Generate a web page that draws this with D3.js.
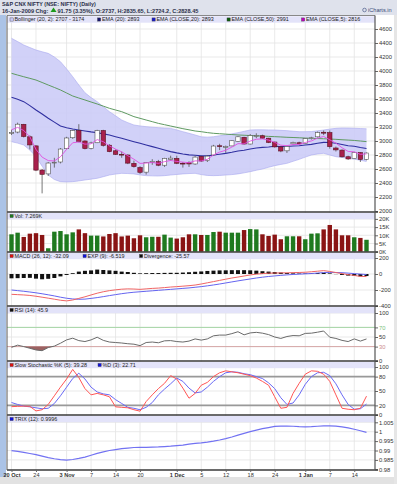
<!DOCTYPE html>
<html><head><meta charset="utf-8">
<script src="https://cdn.jsdelivr.net/npm/d3@7"></script>
<style>body{margin:0;background:#fff}svg{display:block;font-family:"Liberation Sans",Arial,sans-serif}</style>
</head><body><svg id="c" width="397" height="484"></svg>
<script>
// ---------------- DATA ----------------
const dates = ["2008-10-20","2008-10-21","2008-10-22","2008-10-23","2008-10-24","2008-10-27","2008-10-28","2008-10-29","2008-10-31",
"2008-11-03","2008-11-04","2008-11-05","2008-11-06","2008-11-07","2008-11-10","2008-11-11","2008-11-12","2008-11-14","2008-11-17","2008-11-18","2008-11-19","2008-11-20","2008-11-21","2008-11-24","2008-11-25","2008-11-26","2008-11-28",
"2008-12-01","2008-12-02","2008-12-03","2008-12-04","2008-12-05","2008-12-08","2008-12-10","2008-12-11","2008-12-12","2008-12-15","2008-12-16","2008-12-17","2008-12-18","2008-12-19","2008-12-22","2008-12-23","2008-12-24","2008-12-26","2008-12-29","2008-12-30","2008-12-31",
"2009-01-01","2009-01-02","2009-01-05","2009-01-06","2009-01-07","2009-01-09","2009-01-12","2009-01-13","2009-01-14","2009-01-15","2009-01-16"];
const open = [3110,3128,3238,3060,2930,2585,2530,2690,2700,
2890,3047,3150,3000,2895,2975,3150,2940,2860,2810,2800,2680,2620,2555,2695,2705,2654,2735,
2752,2682,2690,2672,2780,2720,2800,2932,2915,2930,2995,3053,2957,3072,3075,3040,2985,2916,2860,2960,2975,
2962,3040,3060,3125,3120,2900,2870,2775,2750,2835,2737];
const high = [3160,3262,3245,3080,2940,2600,2700,2760,2900,
3060,3160,3240,3010,2990,3160,3160,2955,2880,2850,2810,2720,2640,2700,2740,2730,2760,2790,
2790,2700,2710,2790,2790,2800,2945,2960,2935,3010,3070,3060,3100,3110,3090,3045,2990,2930,2935,2990,2990,
3040,3060,3135,3150,3150,2920,2880,2790,2845,2840,2835.65];
const low = [3085,3110,3050,2880,2570,2252,2500,2620,2680,
2880,3030,2980,2880,2880,2970,2920,2840,2800,2760,2670,2620,2530,2520,2660,2640,2630,2720,
2670,2620,2630,2660,2700,2700,2790,2870,2830,2925,2985,2950,2950,3040,3030,2970,2905,2840,2830,2950,2950,
2955,3020,3050,3085,2890,2850,2765,2730,2745,2700,2724.2];
const close = [3122,3240,3065,2944,2584,2524,2685,2697,2885,
3043,3148,2994,2892,2973,3148,2938,2848,2810,2799,2684,2635,2553,2693,2708,2654,2752,2755,
2682,2677,2672,2770,2714,2784,2928,2920,2921,3004,3060,2957,3078,3077,3040,2980,2916,2857,2922,2979,2959,
3033,3046,3121,3112,2920,2873,2774,2744,2835,2737,2828.45];
const volumeK = [10.6,11.6,9.0,11.0,11.3,10.2,2.1,12.2,12.6,
10.6,11.8,13.6,11.3,9.8,9.8,9.3,10.8,11.3,9.3,9.8,8.2,10.0,8.8,9.1,9.1,10.4,8.6,
8.0,8.8,10.6,10.6,10.2,10.2,12.0,12.2,11.6,11.6,11.6,13.2,13.8,13.6,10.6,9.6,10.4,7.6,9.4,9.4,9.4,
7.6,11.0,11.2,13.6,16.3,13.6,10.0,10.0,8.8,8.4,7.269];
const bbUpper = [4467,4420,4371,4335,4300,4275,4252,4200,4133,
4030,3919,3800,3690,3620,3562,3490,3419,3360,3300,3262,3229,3215,3205,3197,3190,3185,3180,
3158,3133,3110,3086,3060,3055,3061,3075,3086,3102,3119,3138,3157,3160,3160,3158,3157,3152,3148,3140,3133,
3133,3135,3145,3157,3170,3181,3186,3185,3182,3178,3174];
const bbLower = [2990,2970,2943,2870,2776,2640,2514,2450,2419,
2415,2419,2430,2443,2455,2467,2490,2514,2528,2538,2535,2530,2515,2505,2502,2500,2505,2514,
2522,2530,2535,2538,2520,2508,2505,2508,2514,2520,2530,2545,2562,2582,2600,2625,2648,2665,2681,2710,2738,
2770,2800,2815,2824,2800,2776,2765,2752,2740,2725,2707];
const ema20 = [3624,3595,3562,3505,3443,3385,3324,3270,3214,
3190,3171,3157,3143,3130,3119,3102,3086,3062,3038,3014,2990,2967,2943,2920,2896,2872,2848,
2830,2815,2802,2796,2787,2787,2800,2811,2823,2839,2858,2867,2886,2900,2909,2914,2925,2922,2922,2928,2932,
2942,2952,2968,2980,2978,2968,2950,2932,2925,2908,2893];
const ema50 = [3967,3942,3918,3895,3871,3836,3800,3765,3729,
3686,3643,3614,3586,3557,3529,3498,3467,3443,3419,3384,3348,3324,3300,3276,3252,3233,3214,
3195,3176,3160,3143,3133,3120,3110,3104,3098,3092,3086,3082,3078,3074,3071,3066,3062,3058,3053,3050,3046,
3042,3038,3035,3032,3028,3024,3018,3013,3008,3000,2991];
const ema5 = [3160,3195,3150,3060,2880,2770,2720,2715,2775,
2880,2975,2985,2955,2960,3020,2990,2930,2885,2845,2790,2740,2680,2685,2693,2680,2705,2722,
2708,2698,2690,2716,2715,2738,2801,2841,2868,2913,2962,2960,2999,3025,3030,3013,2981,2940,2934,2949,2952,
2979,3001,3041,3065,3017,2969,2904,2851,2845,2809,2816];
const macd = [-254,-258,-262,-268,-278,-290,-302,-315,-328,
-336,-325,-305,-285,-262,-240,-222,-208,-198,-190,-186,-188,-192,-186,-180,-176,-170,-163,
-158,-152,-146,-138,-125,-110,-95,-80,-65,-50,-38,-25,-12,-2,5,10,12,14,15,17,19,
22,28,35,42,32,18,5,-8,-18,-30,-32.09];
const macdSignal = [-200,-208,-216,-225,-235,-247,-260,-274,-290,
-303,-312,-316,-314,-305,-295,-283,-270,-258,-246,-236,-228,-222,-216,-210,-204,-198,-192,
-186,-180,-174,-166,-158,-148,-137,-125,-112,-99,-86,-74,-62,-50,-40,-31,-24,-17,-11,-6,-2,
2,6,12,18,20,19,16,11,5,-1,-6.519];
const macdDiv = [-54,-52,-50,-48,-58,-66,-60,-50,-30,
-12,10,30,40,45,55,50,45,40,30,25,15,8,10,12,12,14,15,
15,18,22,28,32,38,42,45,46,48,48,48,46,42,35,30,25,18,12,8,6,
6,8,12,15,8,-2,-12,-20,-25,-30,-25.57];
const rsi = [28.5,33,30,26.5,23,21.5,28,31,37,
44,47.5,42.5,40.5,44,49.5,43,39.5,38.5,37.5,36,35,32,38.5,39.5,38,42,42.5,
40.5,39.5,41.5,46,43.5,46,52.5,54,54,57,61,54.5,58.5,59.7,58,55,50,47,51,53,52.5,
57.5,58,60,62.5,49.5,47,43,40.5,46,41.5,45.9];
const stochK = [17.4,18,18.5,18,8.5,11,22,40,58,
75,95,78,55,42,45,42,38,17,16,15,11,8,28,42,55,66,82,
75,56,35,45,62,68,80,88,92,90,88,85,82,77,70,62,38,14,16,45,66,
85,92,91,85,70,42,14,12,11,14,39.28];
const stochD = [26,22,18.5,17,15,13,14,24,40,
58,76,87,75,58,48,44,42,32,24,16,14,11,16,26,42,54,65,
77,70,56,46,48,58,70,80,88,90,89,86,84,80,76,67,55,36,22,25,42,
64,80,88,89,82,65,42,22,12,13,22.71];
const trix = [0.9899,0.9895,0.9890,0.9884,0.9878,0.9870,0.9862,0.9856,0.9851,
0.9849,0.9852,0.9858,0.9865,0.9875,0.9885,0.9893,0.9900,0.9905,0.9910,0.9913,0.9916,0.9917,0.9917,0.9918,0.9919,0.9921,0.9923,
0.9926,0.9929,0.9934,0.9938,0.9941,0.9945,0.9950,0.9956,0.9963,0.9972,0.9982,0.9991,1.0000,1.0008,1.0016,1.0022,1.0028,1.0030,1.0030,1.0029,1.0027,
1.0026,1.0027,1.0029,1.0031,1.0031,1.0030,1.0026,1.0020,1.0013,1.0005,0.9996];

const xTickDates = ["2008-10-20","2008-10-24","2008-11-03","2008-11-07","2008-11-14","2008-11-20","2008-12-01","2008-12-05","2008-12-12","2008-12-18","2008-12-24","2009-01-01","2009-01-07","2009-01-14"];
const xTickLabels = ["20 Oct","24","3 Nov","7","14","20","1 Dec","5","12","18","24","1 Jan","7","14"];
const xTickBold = ["20 Oct","3 Nov","1 Dec","1 Jan"];
const priceTicks = [2000,2200,2400,2600,2800,3000,3200,3400,3600,3800,4000,4200,4400,4600];
const volTicks = [0,5,10,15,20];
const macdTicks = [-400,-200,0,200];
const rsiTicks = [0,30,50,70,100];
const stochTicks = [0,20,50,80,100];
const trixTicks = [0.98,0.985,0.99,0.995,1,1.005];

const titleLine1 = "S&P CNX NIFTY (NSE: NIFTY) (Daily)";
const titleDate = "16-Jan-2009 Chg:";
const titleRest = "91.75 (3.35%), O:2737, H:2835.65, L:2724.2, C:2828.45";
const brand = "iCharts.in";

// ---------------- DRAW ----------------
const W = 397, H = 484, L = 7, R = 375;
const svg = d3.select("#c");
svg.append("rect").attr("width", W).attr("height", H).attr("fill", "#fff");
svg.append("rect").attr("x", 0).attr("y", 0).attr("width", W).attr("height", 15).attr("fill", "#dfe2ec");
svg.append("rect").attr("x", 0).attr("y", 15).attr("width", 6).attr("height", 462).attr("fill", "#abc3e6");
svg.append("rect").attr("x", 0).attr("y", 477).attr("width", W).attr("height", 7).attr("fill", "#e2e2e2");
svg.append("rect").attr("x", 394).attr("y", 15).attr("width", 3).attr("height", 469).attr("fill", "#e6e6e6");

// header
svg.append("text").attr("x", 2).attr("y", 6).attr("font-size", 5.4).attr("font-weight", "bold").attr("fill", "#2a2f4a").text(titleLine1);
const t2 = svg.append("text").attr("x", 2).attr("y", 12.5).attr("font-size", 5.6).attr("font-weight", "bold").attr("fill", "#2a2f4a");
t2.append("tspan").text(titleDate);
svg.append("path").attr("d", "M50.5,12 L53.5,7.5 L56.5,12 Z").attr("fill", "#1c9a1c");
svg.append("text").attr("x", 57.5).attr("y", 12.5).attr("font-size", 5.6).attr("font-weight", "bold").attr("fill", "#2a2f4a").text(titleRest);
svg.append("circle").attr("cx", 364.5).attr("cy", 10).attr("r", 1.8).attr("fill", "none").attr("stroke", "#4a5a8a").attr("stroke-width", 0.7);
svg.append("text").attr("x", 368).attr("y", 12).attr("font-size", 5.6).attr("fill", "#3a4a7a").text(brand);

const x = d3.scalePoint().domain(dates).range([11.5, 366.5]);
const bw = 4.4;

const panels = {
  main:  {top: 15.5, bottom: 212, y: d3.scaleLinear().domain([2000, 4800]).range([211, 15]), ticks: priceTicks, fmt: d => d},
  vol:   {top: 212, bottom: 252, y: d3.scaleLinear().domain([0, 20]).range([251.7, 218.9]), ticks: volTicks, fmt: d => d + "K"},
  macd:  {top: 252, bottom: 306, y: d3.scaleLinear().domain([-400, 200]).range([306, 258]), ticks: macdTicks, fmt: d => d},
  rsi:   {top: 306, bottom: 361, y: d3.scaleLinear().domain([0, 100]).range([361, 313]), ticks: rsiTicks, fmt: d => d},
  stoch: {top: 361, bottom: 415, y: d3.scaleLinear().domain([0, 100]).range([415, 367]), ticks: stochTicks, fmt: d => d},
  trix:  {top: 415, bottom: 470, y: d3.scaleLinear().domain([0.98, 1.005]).range([469.3, 422.3]), ticks: trixTicks, fmt: d => String(+d.toFixed(3))}
};

const gridG = svg.append("g");
// vertical grid
xTickDates.forEach(d => {
  gridG.append("line").attr("x1", x(d)).attr("x2", x(d)).attr("y1", 15.5).attr("y2", 470)
    .attr("stroke", "#e3e3e3").attr("stroke-width", 0.8);
});
// horizontal grid + axes
Object.entries(panels).forEach(([k, p]) => {
  p.ticks.forEach(t => {
    const yy = p.y(t);
    if (yy > p.top + 1 && yy < p.bottom - 1)
      gridG.append("line").attr("x1", L).attr("x2", R).attr("y1", yy).attr("y2", yy).attr("stroke", "#e3e3e3").attr("stroke-width", 0.8);
  });
  const ax = svg.append("g").attr("transform", `translate(${R},0)`)
    .call(d3.axisRight(p.y).tickValues(p.ticks).tickSize(3).tickPadding(1).tickFormat(p.fmt));
  ax.select(".domain").remove();
  ax.selectAll("text").attr("font-size", 5.8).attr("fill", "#333").attr("font-family", "Liberation Sans, Arial, sans-serif");
  ax.selectAll("line").attr("stroke", "#666");
  p.axis = ax;
});
// colour RSI labels
panels.rsi.axis.selectAll(".tick").each(function(d) {
  if (d === 70) d3.select(this).select("text").attr("fill", "#7cbf7c");
  if (d === 30) d3.select(this).select("text").attr("fill", "#cc8c8c");
});

// ---- main panel ----
const ym = panels.main.y;
const idx = d3.range(dates.length);
svg.append("path").datum(idx)
  .attr("d", d3.area().x(i => x(dates[i])).y0(i => ym(bbLower[i])).y1(i => ym(bbUpper[i])))
  .attr("fill", "#c9c9f7").attr("fill-opacity", 0.85);
[bbUpper, bbLower].forEach(s => svg.append("path").datum(idx)
  .attr("d", d3.line().x(i => x(dates[i])).y(i => ym(s[i])))
  .attr("fill", "none").attr("stroke", "#a8a8ee").attr("stroke-width", 0.6));
const lineOf = (s, y) => d3.line().x(i => x(dates[i])).y(i => y(s[i]));
svg.append("path").datum(idx).attr("d", lineOf(ema50, ym)).attr("fill", "none").attr("stroke", "#5f9a62").attr("stroke-width", 1);
svg.append("path").datum(idx).attr("d", lineOf(ema20, ym)).attr("fill", "none").attr("stroke", "#2f2fa0").attr("stroke-width", 1.1);
// candles
const cg = svg.append("g");
idx.forEach(i => {
  const cx = x(dates[i]);
  const up = close[i] >= open[i];
  cg.append("line").attr("x1", cx).attr("x2", cx).attr("y1", ym(high[i])).attr("y2", ym(low[i]))
    .attr("stroke", "#555").attr("stroke-width", 0.8);
  const y0 = ym(Math.max(open[i], close[i])), y1 = ym(Math.min(open[i], close[i]));
  cg.append("rect").attr("x", cx - bw / 2).attr("y", y0).attr("width", bw).attr("height", Math.max(0.8, y1 - y0))
    .attr("fill", up ? "#fff" : "#a8204c").attr("stroke", up ? "#555" : "#5a1020").attr("stroke-width", 0.6);
});
svg.append("path").datum(idx).attr("d", lineOf(ema5, ym)).attr("fill", "none").attr("stroke", "#e050e0").attr("stroke-width", 0.9);

// ---- volume ----
const yv = panels.vol.y;
idx.forEach(i => {
  const up = close[i] >= open[i];
  svg.append("rect").attr("x", x(dates[i]) - 2.2).attr("width", 4.4)
    .attr("y", yv(volumeK[i])).attr("height", yv(0) - yv(volumeK[i]))
    .attr("fill", up ? "#1f7a1f" : "#8a1414");
});

// ---- MACD ----
const yM = panels.macd.y;
idx.forEach(i => {
  const v = macdDiv[i];
  svg.append("rect").attr("x", x(dates[i]) - 2).attr("width", 4)
    .attr("y", Math.min(yM(v), yM(0))).attr("height", Math.abs(yM(v) - yM(0)))
    .attr("fill", "#111");
});
svg.append("path").datum(idx).attr("d", lineOf(macdSignal, yM)).attr("fill", "none").attr("stroke", "#6464f0").attr("stroke-width", 1);
svg.append("path").datum(idx).attr("d", lineOf(macd, yM)).attr("fill", "none").attr("stroke", "#f06464").attr("stroke-width", 1);

// ---- RSI ----
const yR = panels.rsi.y;
svg.append("line").attr("x1", L).attr("x2", R).attr("y1", yR(70)).attr("y2", yR(70)).attr("stroke", "#a6d6a6").attr("stroke-width", 1);
svg.append("line").attr("x1", L).attr("x2", R).attr("y1", yR(30)).attr("y2", yR(30)).attr("stroke", "#d6a6a6").attr("stroke-width", 1);
svg.append("path").datum(idx)
  .attr("d", d3.area().x(i => x(dates[i])).y0(yR(30)).y1(i => yR(Math.min(rsi[i], 30))))
  .attr("fill", "#9c6262");
svg.append("path").datum(idx).attr("d", lineOf(rsi, yR)).attr("fill", "none").attr("stroke", "#6a6a6a").attr("stroke-width", 1);

// ---- Stochastic ----
const yS = panels.stoch.y;
[80, 20].forEach(v => svg.append("line").attr("x1", L).attr("x2", R).attr("y1", yS(v)).attr("y2", yS(v)).attr("stroke", "#999").attr("stroke-width", 1.6));
svg.append("path").datum(idx).attr("d", lineOf(stochD, yS)).attr("fill", "none").attr("stroke", "#6a6af5").attr("stroke-width", 1);
svg.append("path").datum(idx).attr("d", lineOf(stochK, yS)).attr("fill", "none").attr("stroke", "#f55").attr("stroke-width", 1);

// ---- TRIX ----
const yT = panels.trix.y;
svg.append("path").datum(idx).attr("d", lineOf(trix, yT)).attr("fill", "none").attr("stroke", "#7272f2").attr("stroke-width", 1.2);

// ---- legends ----
const legends = {
  main: [["#c9c9f7", 10, "Bollinger (20, 2): 2707 - 3174"], ["#16166e", 97.5, "EMA (20): 2893"], ["#1c1cc8", 152, "EMA (CLOSE,20): 2893"], ["#0c5a0c", 227, "EMA (CLOSE,50): 2991"], ["#c000c0", 301.5, "EMA (CLOSE,5): 2816"]],
  vol: [["#1f7a1f", 10, "Vol: 7.269K"]],
  macd: [["#e01010", 10, "MACD (26, 12): -32.09"], ["#1010e0", 83, "EXP (9): -6.519"], ["#111", 139.5, "Divergence: -25.57"]],
  rsi: [["#111", 10, "RSI (14): 45.9"]],
  stoch: [["#e01010", 10, "Slow Stochastic %K (5): 39.28"], ["#1010e0", 98, "%D (3): 22.71"]],
  trix: [["#1010e0", 10, "TRIX (12): 0.9996"]]
};
Object.entries(panels).forEach(([k, p]) => {
  const t = p.top + 0.8;
  svg.append("rect").attr("x", L).attr("y", t).attr("width", R - L).attr("height", 6.4).attr("fill", "#e3e3f9");
  legends[k].forEach(([c, lx, txt]) => {
    svg.append("rect").attr("x", lx).attr("y", t + 1.6).attr("width", 3.2).attr("height", 3.2).attr("fill", c).attr("stroke", "#444").attr("stroke-width", 0.4);
    svg.append("text").attr("x", lx + 4.5).attr("y", t + 5).attr("font-size", 5.4).attr("fill", "#222").text(txt);
  });
});

// ---- panel borders ----
svg.append("line").attr("x1", L).attr("x2", R).attr("y1", 15.5).attr("y2", 15.5).attr("stroke", "#888").attr("stroke-width", 1);
[212, 252, 306, 361, 415, 470].forEach(yy => svg.append("line").attr("x1", L).attr("x2", R + 3).attr("y1", yy).attr("y2", yy).attr("stroke", "#3a3a3a").attr("stroke-width", 1.6));
svg.append("line").attr("x1", L).attr("x2", L).attr("y1", 15.5).attr("y2", 470).attr("stroke", "#555").attr("stroke-width", 1);
svg.append("line").attr("x1", R).attr("x2", R).attr("y1", 15.5).attr("y2", 470).attr("stroke", "#555").attr("stroke-width", 1.2);

// ---- x axis ----
const xa = svg.append("g").attr("transform", "translate(0,470)")
  .call(d3.axisBottom(x).tickValues(xTickDates).tickSize(2).tickPadding(1).tickFormat((d, i) => xTickLabels[i]));
xa.select(".domain").remove();
xa.selectAll("line").attr("stroke", "#666");
xa.selectAll("text").attr("font-size", 5.6).attr("fill", "#333").attr("font-family", "Liberation Sans, Arial, sans-serif")
  .attr("font-weight", d => xTickBold.includes(xTickLabels[xTickDates.indexOf(d)]) ? "bold" : "normal");
</script></body></html>
